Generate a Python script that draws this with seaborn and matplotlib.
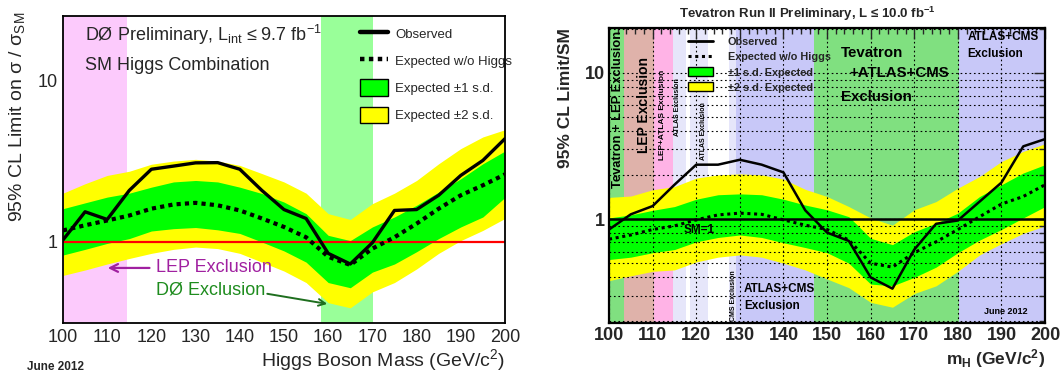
import numpy as np
import matplotlib
matplotlib.use("Agg")
import matplotlib.pyplot as plt
from matplotlib.lines import Line2D
from matplotlib.patches import Patch
from matplotlib.ticker import FixedLocator, NullFormatter, FixedFormatter
import seaborn as sns

# ---------------- data ----------------
mass = [100, 105, 110, 115, 120, 125, 130, 135, 140, 145, 150,
        155, 160, 165, 170, 175, 180, 185, 190, 195, 200]

# D0 combination
d0_obs = [1.03, 1.54, 1.38, 2.09, 2.83, 2.96, 3.10, 3.11, 2.83, 2.09, 1.59,
          1.40, 0.85, 0.73, 0.99, 1.57, 1.59, 1.95, 2.59, 3.21, 4.38]
d0_exp = [1.18, 1.27, 1.36, 1.46, 1.61, 1.71, 1.75, 1.69, 1.57, 1.40, 1.24,
          1.07, 0.81, 0.72, 0.91, 1.07, 1.30, 1.61, 1.95, 2.25, 2.63]
d0_p1 = [1.61, 1.75, 1.90, 2.01, 2.19, 2.36, 2.41, 2.36, 2.19, 2.00, 1.77,
         1.50, 1.10, 1.02, 1.24, 1.43, 1.69, 2.04, 2.47, 3.06, 3.67]
d0_m1 = [0.83, 0.90, 0.98, 1.05, 1.17, 1.21, 1.23, 1.19, 1.13, 1.00, 0.88,
         0.75, 0.56, 0.52, 0.65, 0.73, 0.87, 1.05, 1.24, 1.43, 1.89]
d0_p2 = [2.01, 2.30, 2.59, 2.75, 3.04, 3.18, 3.26, 3.18, 2.99, 2.66, 2.36,
         2.01, 1.50, 1.38, 1.73, 2.01, 2.41, 3.06, 3.80, 4.49, 4.98]
d0_m2 = [0.62, 0.67, 0.73, 0.79, 0.85, 0.90, 0.93, 0.91, 0.85, 0.75, 0.66,
         0.56, 0.42, 0.39, 0.49, 0.56, 0.68, 0.85, 1.02, 1.18, 1.40]
d0_lep_excl = [100, 114.4]
d0_d0_excl = [158.4, 170.2]

# Tevatron combination
tev_obs = [0.85, 1.08, 1.23, 1.72, 2.36, 2.36, 2.55, 2.36, 2.09, 1.15, 0.81,
           0.71, 0.40, 0.335, 0.62, 0.93, 0.98, 1.32, 1.78, 3.15, 3.53]
tev_exp = [0.73, 0.78, 0.85, 0.90, 0.99, 1.07, 1.10, 1.08, 0.99, 0.91, 0.85,
           0.72, 0.50, 0.47, 0.59, 0.70, 0.85, 1.04, 1.27, 1.43, 1.72]
tev_p1 = [1.02, 1.07, 1.15, 1.22, 1.37, 1.47, 1.49, 1.47, 1.37, 1.25, 1.16,
          1.04, 0.74, 0.67, 0.82, 0.94, 1.10, 1.43, 1.72, 2.07, 2.36]
tev_m1 = [0.53, 0.55, 0.59, 0.62, 0.70, 0.75, 0.78, 0.75, 0.69, 0.64, 0.59,
          0.50, 0.36, 0.35, 0.40, 0.47, 0.59, 0.72, 0.85, 1.02, 1.22]
tev_p2 = [1.41, 1.44, 1.59, 1.67, 1.91, 2.01, 2.04, 2.01, 1.88, 1.60, 1.43,
          1.22, 1.02, 0.91, 1.16, 1.32, 1.63, 1.96, 2.48, 2.91, 3.28]
tev_m2 = [0.38, 0.41, 0.44, 0.45, 0.51, 0.55, 0.57, 0.55, 0.50, 0.45, 0.39,
          0.34, 0.27, 0.25, 0.31, 0.35, 0.44, 0.57, 0.68, 0.80, 0.90]
# exclusion regions (start, end)
tev_region_lo = [100, 103.4, 110.2, 114.6, 118.6, 127.5, 129.1, 147.1, 180.3]
tev_region_hi = [103.4, 110.2, 114.6, 117.6, 122.6, 129.1, 147.1, 180.3, 200]

# ---------------- style ----------------
sns.set_style("white")
plt.rcParams['font.family'] = ['Liberation Sans', 'DejaVu Sans']
plt.rcParams['mathtext.fontset'] = 'custom'
plt.rcParams['mathtext.rm'] = 'Liberation Sans'
plt.rcParams['mathtext.it'] = 'Liberation Sans:italic'
plt.rcParams['mathtext.bf'] = 'Liberation Sans:bold'

GREEN = '#00ff00'
YELLOW = '#ffff00'
region_colors = ['#80e080', '#dfb2aa', '#ffb3e6', '#e6e6fa', '#e6e6fa',
                 '#e6e6fa', '#c8c8f8', '#80e080', '#c8c8f8']

fig = plt.figure(figsize=(10.64, 3.77), dpi=100)
ax1 = fig.add_axes([0.0592, 0.1432, 0.4154, 0.8143])
ax2 = fig.add_axes([0.5724, 0.1432, 0.4098, 0.7825])

# ================= Left panel (D0) =================
ax1.axvspan(d0_lep_excl[0], d0_lep_excl[1], color='#fccafc', lw=0, zorder=0)
ax1.axvspan(d0_d0_excl[0], d0_d0_excl[1], color='#99ff99', lw=0, zorder=0)
ax1.fill_between(mass, d0_m2, d0_p2, color=YELLOW, lw=0, zorder=1)
ax1.fill_between(mass, d0_m1, d0_p1, color=GREEN, lw=0, zorder=2)
ax1.axhline(1, color='#ff0000', lw=1.6, zorder=3)
sns.lineplot(x=mass, y=d0_exp, ax=ax1, color='black', lw=3.0,
             linestyle=(0, (1.0, 1.0)), zorder=4)
sns.lineplot(x=mass, y=d0_obs, ax=ax1, color='black', lw=2.4, zorder=5)

ax1.set_yscale('log')
ax1.set_xlim(100, 200)
ax1.set_ylim(0.314, 25.3)
ax1.xaxis.set_major_locator(FixedLocator(range(100, 201, 10)))
ax1.xaxis.set_minor_locator(FixedLocator(range(100, 201, 2)))
ax1.yaxis.set_major_locator(FixedLocator([1, 10]))
ax1.yaxis.set_major_formatter(FixedFormatter(['1', '10']))
ax1.yaxis.set_minor_locator(FixedLocator([0.4, 0.5, 0.6, 0.7, 0.8, 0.9, 2, 3, 4, 5, 6, 7, 8, 9, 20]))
ax1.yaxis.set_minor_formatter(NullFormatter())
ax1.tick_params(axis='both', which='major', direction='in', length=9, width=1,
                labelsize=13, top=False, right=False, pad=4)
ax1.tick_params(axis='both', which='minor', direction='in', length=5, width=1,
                top=False, right=False)
ax1.set_xlabel('')
ax1.set_ylabel('')
for s in ax1.spines.values():
    s.set_linewidth(1.3)
    s.set_color('black')
    s.set_zorder(10)

ax1.text(105.0, 19.3, r'DØ Preliminary, $\mathrm{L_{int}}$ ≤ 9.7 $\mathrm{fb^{-1}}$',
         fontsize=13, va='center', ha='left')
ax1.text(105.0, 12.4, 'SM Higgs Combination', fontsize=13, va='center', ha='left')
ax1.text(121.0, 0.69, 'LEP Exclusion', color='#a020a0', fontsize=13,
         va='center', ha='left')
ax1.annotate('', xy=(109.5, 0.69), xytext=(120.2, 0.69),
             arrowprops=dict(arrowstyle='->', color='#a020a0', lw=1.6,
                             mutation_scale=14))
ax1.text(121.0, 0.50, 'DØ Exclusion', color='#1e8c1e', fontsize=13,
         va='center', ha='left')
ax1.annotate('', xy=(160.4, 0.41), xytext=(145.6, 0.48),
             arrowprops=dict(arrowstyle='->', color='#1e6e1e', lw=1.4,
                             mutation_scale=12))

leg1_handles = [Line2D([], [], color='black', lw=3.2),
                Line2D([], [], color='black', lw=3.2, linestyle=(0, (1.0, 1.0))),
                Patch(facecolor=GREEN, edgecolor='black', lw=1),
                Patch(facecolor=YELLOW, edgecolor='black', lw=1)]
leg1_labels = ['Observed', 'Expected w/o Higgs', 'Expected ±1 s.d.', 'Expected ±2 s.d.']
ax1.legend(leg1_handles, leg1_labels, loc='upper left', bbox_to_anchor=(0.652, 1.0),
           frameon=False, fontsize=9.5, handlelength=2.1, handleheight=1.55,
           labelspacing=0.8, handletextpad=0.55, borderaxespad=0.3)

fig.text(17 / 1064, 1 - 12 / 377, '95% CL Limit on σ / σ$_{\\rm SM}$', rotation=90,
         fontsize=14, ha='center', va='top')
fig.text(505 / 1064, 1 - 360 / 377, 'Higgs Boson Mass (GeV/c$^{\\rm 2}$)',
         fontsize=14, ha='right', va='center')
fig.text(27 / 1064, 1 - 367 / 377, 'June 2012', fontsize=8.5, fontweight='bold',
         ha='left', va='center')

# ================= Right panel (Tevatron) =================
for lo, hi, c in zip(tev_region_lo, tev_region_hi, region_colors):
    ax2.axvspan(lo, hi, color=c, lw=0, zorder=0)
ax2.fill_between(mass, tev_m2, tev_p2, color=YELLOW, lw=0, zorder=1)
ax2.fill_between(mass, tev_m1, tev_p1, color=GREEN, lw=0, zorder=2)
ax2.axhline(1, color='black', lw=1.8, zorder=3)
sns.lineplot(x=mass, y=tev_exp, ax=ax2, color='black', lw=2.2,
             linestyle=(0, (1.0, 1.2)), zorder=4)
sns.lineplot(x=mass, y=tev_obs, ax=ax2, color='black', lw=1.8, zorder=5)

ax2.set_yscale('log')
ax2.set_xlim(100, 200)
ax2.set_ylim(0.195, 20.3)
ax2.xaxis.set_major_locator(FixedLocator(range(100, 201, 10)))
ax2.xaxis.set_minor_locator(FixedLocator(range(100, 201, 2)))
ax2.yaxis.set_major_locator(FixedLocator([1, 10]))
ax2.yaxis.set_major_formatter(FixedFormatter(['1', '10']))
ax2_minor = [0.2, 0.3, 0.4, 0.5, 0.6, 0.7, 0.8, 0.9, 2, 3, 4, 5, 6, 7, 8, 9, 20]
ax2.yaxis.set_minor_locator(FixedLocator(ax2_minor))
ax2.yaxis.set_minor_formatter(NullFormatter())
ax2.tick_params(axis='both', which='major', direction='in', length=8, width=1,
                labelsize=13, top=True, right=True, pad=3)
ax2.tick_params(axis='both', which='minor', direction='in', length=4, width=1,
                top=True, right=True)
for lab in ax2.get_xticklabels() + ax2.get_yticklabels():
    lab.set_fontweight('bold')
ax2.grid(True, which='major', axis='x', color='black', lw=0.8, linestyle=(0, (1.5, 2.5)), zorder=6)
ax2.grid(True, which='both', axis='y', color='black', lw=0.8, linestyle=(0, (1.5, 2.5)), zorder=6)
ax2.set_axisbelow(False)
ax2.set_xlabel('')
ax2.set_ylabel('')
for s in ax2.spines.values():
    s.set_linewidth(1.6)
    s.set_color('black')
    s.set_zorder(10)

bold = dict(fontweight='bold', color='black')
ax2.text(102.1, 1.63, 'Tevatron + LEP Exclusion', rotation=90, fontsize=9.3,
         ha='center', va='bottom', **bold)
ax2.text(108.1, 2.83, 'LEP Exclusion', rotation=90, fontsize=10,
         ha='center', va='bottom', **bold)
ax2.text(112.3, 2.55, 'LEP+ATLAS Exclusion', rotation=90, fontsize=6,
         ha='center', va='bottom', **bold)
ax2.text(115.6, 3.68, 'ATLAS Exclusion', rotation=90, fontsize=5,
         ha='center', va='bottom', **bold)
ax2.text(121.6, 2.55, 'ATLAS Exclusion', rotation=90, fontsize=5,
         ha='center', va='bottom', **bold)
ax2.text(128.5, 0.20, 'CMS Exclusion', rotation=90, fontsize=5,
         ha='center', va='bottom', **bold)
ax2.text(131.0, 0.29, 'ATLAS+CMS\nExclusion', fontsize=8.5, ha='left',
         va='center', linespacing=1.55, **bold)
ax2.text(153.2, 13.7, 'Tevatron', fontsize=10.8, ha='left', va='center', **bold)
ax2.text(155.1, 10.0, '+ATLAS+CMS', fontsize=10.8, ha='left', va='center', **bold)
ax2.text(153.2, 6.85, 'Exclusion', fontsize=10.8, ha='left', va='center', **bold)
ax2.text(182.2, 15.4, 'ATLAS+CMS\nExclusion', fontsize=8.5, ha='left',
         va='center', linespacing=1.5, **bold)
ax2.text(186.0, 0.235, 'June 2012', fontsize=6.5, ha='left', va='center', **bold)
ax2.text(117.2, 0.84, 'SM=1', fontsize=8.5, ha='left', va='center', **bold)

leg2_handles = [Line2D([], [], color='black', lw=2.0),
                Line2D([], [], color='black', lw=2.2, linestyle=(0, (1.0, 1.2))),
                Patch(facecolor=GREEN, edgecolor='black', lw=1),
                Patch(facecolor=YELLOW, edgecolor='black', lw=1)]
leg2_labels = ['Observed', 'Expected w/o Higgs', '±1 s.d. Expected', '±2 s.d. Expected']
leg2 = ax2.legend(leg2_handles, leg2_labels, loc='upper left', bbox_to_anchor=(0.163, 0.995),
                  frameon=False, fontsize=7.8, handlelength=2.3, handleheight=0.9,
                  labelspacing=0.45, handletextpad=1.4, borderaxespad=0.3)
for t in leg2.get_texts():
    t.set_fontweight('bold')
leg2.set_zorder(8)

fig.text(807 / 1064, 1 - 14 / 377, r'Tevatron Run II Preliminary, L ≤ 10.0 $\mathbf{fb^{-1}}$',
         fontsize=9.5, fontweight='bold', ha='center', va='center')
fig.text(565 / 1064, 1 - 28 / 377, '95% CL Limit/SM', rotation=90, fontsize=12.5,
         fontweight='bold', ha='center', va='top')
fig.text(1045 / 1064, 1 - 359 / 377, r'$\mathbf{m_{H}}$ (GeV/c$^{\mathbf{2}}$)',
         fontsize=12.5, fontweight='bold', ha='right', va='center')

fig.savefig('out.png', dpi=100)
